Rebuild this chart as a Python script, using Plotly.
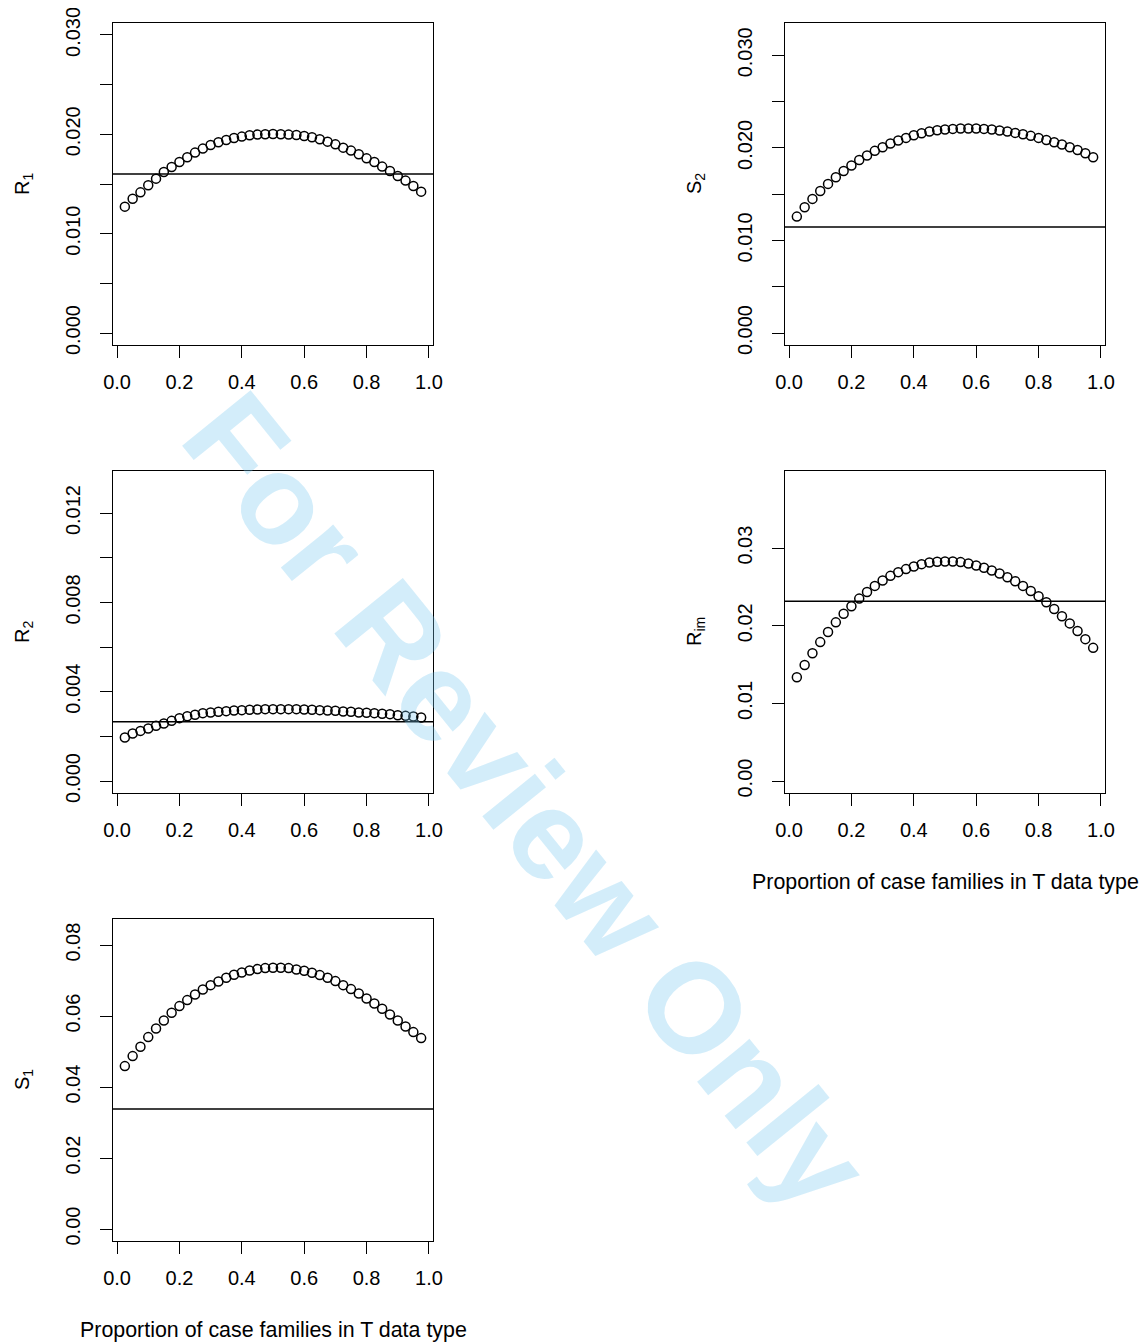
import plotly.graph_objects as go

# ---------------- data ----------------
x_prop = [0.025, 0.05, 0.075, 0.1, 0.125, 0.15, 0.175, 0.2, 0.225, 0.25,
          0.275, 0.3, 0.325, 0.35, 0.375, 0.4, 0.425, 0.45, 0.475, 0.5,
          0.525, 0.55, 0.575, 0.6, 0.625, 0.65, 0.675, 0.7, 0.725, 0.75,
          0.775, 0.8, 0.825, 0.85, 0.875, 0.9, 0.925, 0.95, 0.975]

R1 = [0.01272, 0.01352, 0.01416, 0.01487, 0.01554, 0.01621, 0.01671, 0.01722, 0.01769, 0.01816,
      0.01856, 0.01893, 0.01920, 0.01943, 0.01963, 0.01977, 0.01990, 0.01997, 0.02000, 0.02003,
      0.02000, 0.01997, 0.01993, 0.01983, 0.01970, 0.01950, 0.01926, 0.01899, 0.01866, 0.01836,
      0.01799, 0.01758, 0.01722, 0.01675, 0.01631, 0.01581, 0.01534, 0.01480, 0.01423]

S2 = [0.01258, 0.01359, 0.01449, 0.01535, 0.01611, 0.01683, 0.01751, 0.01809, 0.01870, 0.01917,
      0.01968, 0.02007, 0.02047, 0.02079, 0.02108, 0.02137, 0.02159, 0.02177, 0.02191, 0.02198,
      0.02205, 0.02209, 0.02209, 0.02209, 0.02205, 0.02198, 0.02187, 0.02177, 0.02162, 0.02148,
      0.02130, 0.02108, 0.02086, 0.02061, 0.02036, 0.02007, 0.01978, 0.01942, 0.01899]

R2 = [0.001948, 0.002127, 0.002247, 0.002352, 0.002472, 0.002577, 0.002697, 0.002817, 0.002906, 0.002966,
      0.003041, 0.003071, 0.003101, 0.003131, 0.003161, 0.003176, 0.003191, 0.003206, 0.003221, 0.003221,
      0.003221, 0.003221, 0.003221, 0.003206, 0.003191, 0.003176, 0.003161, 0.003146, 0.003116, 0.003101,
      0.003071, 0.003056, 0.003041, 0.003011, 0.002996, 0.002951, 0.002921, 0.002891, 0.002846]

Rim = [0.01337, 0.01496, 0.01647, 0.01790, 0.01919, 0.02044, 0.02156, 0.02251, 0.02350, 0.02436,
       0.02514, 0.02583, 0.02643, 0.02691, 0.02730, 0.02764, 0.02794, 0.02816, 0.02824, 0.02829,
       0.02829, 0.02820, 0.02803, 0.02777, 0.02747, 0.02712, 0.02674, 0.02626, 0.02574, 0.02514,
       0.02449, 0.02380, 0.02303, 0.02216, 0.02122, 0.02031, 0.01932, 0.01828, 0.01716]

S1 = [0.04592, 0.04873, 0.05136, 0.05408, 0.05653, 0.05878, 0.06094, 0.06282, 0.06451, 0.06610,
      0.06751, 0.06873, 0.06977, 0.07080, 0.07164, 0.07230, 0.07286, 0.07324, 0.07352, 0.07361,
      0.07361, 0.07352, 0.07315, 0.07277, 0.07221, 0.07155, 0.07080, 0.06986, 0.06873, 0.06761,
      0.06638, 0.06498, 0.06357, 0.06206, 0.06047, 0.05878, 0.05709, 0.05549, 0.05380]

# reference (horizontal) lines
hline_vals = {"R1": 0.0160, "S2": 0.01145, "R2": 0.00266, "Rim": 0.02316, "S1": 0.0338}

# y limits (before R-style 4% expansion)
ylims = {"R1": (0, 0.030), "S2": (0, 0.0322), "R2": (0, 0.01335), "Rim": (0, 0.0384), "S1": (0, 0.084)}

x_tickvals = [0.0, 0.2, 0.4, 0.6, 0.8, 1.0]
x_ticktext = ["0.0", "0.2", "0.4", "0.6", "0.8", "1.0"]

# labelled y ticks
y_tickvals = {
    "R1": [0.0, 0.010, 0.020, 0.030],
    "S2": [0.0, 0.010, 0.020, 0.030],
    "R2": [0.0, 0.004, 0.008, 0.012],
    "Rim": [0.0, 0.01, 0.02, 0.03],
    "S1": [0.0, 0.02, 0.04, 0.06, 0.08],
}
y_ticktext = {
    "R1": ["0.000", "0.010", "0.020", "0.030"],
    "S2": ["0.000", "0.010", "0.020", "0.030"],
    "R2": ["0.000", "0.004", "0.008", "0.012"],
    "Rim": ["0.00", "0.01", "0.02", "0.03"],
    "S1": ["0.00", "0.02", "0.04", "0.06", "0.08"],
}
# unlabelled (in-between) y ticks
y_minor_ticks = {
    "R1": [0.005, 0.015, 0.025],
    "S2": [0.005, 0.015, 0.025],
    "R2": [0.002, 0.006, 0.010],
    "Rim": [],
    "S1": [],
}
y_titles = {"R1": "R<sub>1</sub>", "S2": "S<sub>2</sub>", "R2": "R<sub>2</sub>",
            "Rim": "R<sub>im</sub>", "S1": "S<sub>1</sub>"}
x_title = "Proportion of case families in T data type"
watermark = "For Review Only"

series = {"R1": R1, "S2": S2, "R2": R2, "Rim": Rim, "S1": S1}

# ---------------- layout ----------------
# the page body adds an 8px offset; target pixel positions are given in screenshot coords
OFF = 8
W, H = 1147 - OFF, 1343 - OFF
FONT = "Liberation Sans, Arial, Helvetica, sans-serif"


def px_x(p):
    return (p - OFF) / W


def px_y(p):
    return 1 - (p - OFF) / H


col_px = {0: (113, 433), 1: (785, 1105)}
row_px = {0: (23, 345), 1: (471, 793), 2: (919, 1241)}
panels = [("R1", 0, 0), ("S2", 0, 1), ("R2", 1, 0), ("Rim", 1, 1), ("S1", 2, 0)]

fig = go.Figure()
layout = dict(template="none", width=W, height=H,
              margin=dict(l=0, r=0, t=0, b=0, pad=0, autoexpand=False), autosize=False,
              paper_bgcolor="white", plot_bgcolor="white", showlegend=False,
              font=dict(family=FONT, size=20, color="black"))
annotations = []
shapes = []

xmin, xmax = min(x_prop), max(x_prop)
xr = [xmin - 0.04 * (xmax - xmin), xmax + 0.04 * (xmax - xmin)]

for i, (key, r, c) in enumerate(panels):
    n = "" if i == 0 else str(i + 1)
    x0, x1 = col_px[c]
    y0, y1 = row_px[r]
    lo, hi = ylims[key]
    yr = [lo - 0.04 * (hi - lo), hi + 0.04 * (hi - lo)]
    axcommon = dict(showline=True, mirror=True, linecolor="black", linewidth=1.4,
                    ticks="outside", ticklen=12, tickwidth=1.4, tickcolor="black",
                    showgrid=False, zeroline=False, automargin=False,
                    ticklabeloverflow="allow",
                    tickfont=dict(family=FONT, size=20, color="black"))
    layout["xaxis" + n] = dict(domain=[px_x(x0), px_x(x1)], range=xr, anchor="y" + n,
                               tickmode="array", tickvals=x_tickvals, ticktext=x_ticktext,
                               ticklabelstandoff=7, **axcommon)
    ydict = dict(domain=[px_y(y1), px_y(y0)], range=yr, anchor="x" + n,
                 tickmode="array", tickvals=y_tickvals[key], ticktext=y_ticktext[key],
                 tickangle=-90, ticklabelstandoff=12, **axcommon)
    if y_minor_ticks[key]:
        ydict["minor"] = dict(tickmode="array", tickvals=y_minor_ticks[key], ticks="outside",
                              ticklen=12, tickwidth=1.4, tickcolor="black", showgrid=False)
    layout["yaxis" + n] = ydict
    fig.add_trace(go.Scatter(x=x_prop, y=series[key], mode="markers",
                             xaxis="x" + n, yaxis="y" + n,
                             marker=dict(symbol="circle-open", size=9, color="black",
                                         line=dict(width=1.5, color="black"))))
    shapes.append(dict(type="line", xref="x" + n + " domain", yref="y" + n,
                       x0=0, x1=1, y0=hline_vals[key], y1=hline_vals[key],
                       line=dict(color="black", width=1.5)))
    # y-axis title
    tx = 23 if c == 0 else 695
    annotations.append(dict(text=y_titles[key], xref="paper", yref="paper",
                            x=px_x(tx), y=px_y((y0 + y1) / 2), showarrow=False,
                            textangle=-90, xanchor="center", yanchor="middle",
                            font=dict(family=FONT, size=20, color="black")))

# x-axis titles (under bottom panels of each column)
annotations.append(dict(text=x_title, xref="paper", yref="paper", x=px_x(945), y=px_y(882),
                        showarrow=False, xanchor="center", yanchor="middle",
                        font=dict(family=FONT, size=21.4, color="black")))
annotations.append(dict(text=x_title, xref="paper", yref="paper", x=px_x(273), y=px_y(1330),
                        showarrow=False, xanchor="center", yanchor="middle",
                        font=dict(family=FONT, size=21.4, color="black")))
# watermark
annotations.append(dict(text="<b>" + watermark + "</b>", xref="paper", yref="paper",
                        x=px_x(527), y=px_y(800), showarrow=False, textangle=51,
                        xanchor="center", yanchor="middle",
                        font=dict(family=FONT, size=128, color="rgba(118,198,238,0.32)")))

layout["annotations"] = annotations
layout["shapes"] = shapes
fig.update_layout(**layout)
fig.write_html("out.html")
